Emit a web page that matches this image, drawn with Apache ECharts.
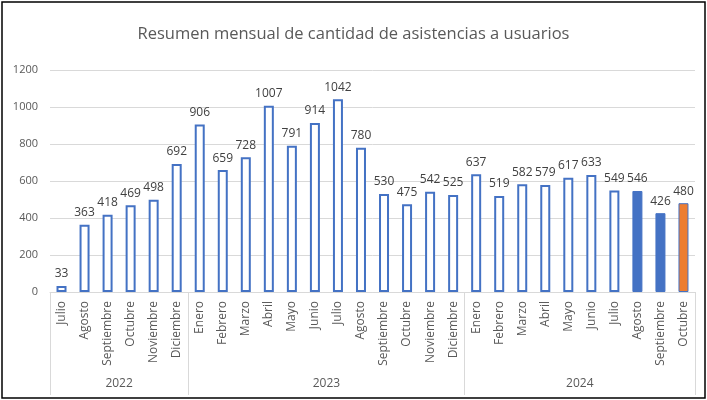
<!DOCTYPE html>
<html>
<head>
<meta charset="utf-8">
<script src="https://cdn.jsdelivr.net/npm/echarts@6/dist/echarts.min.js"></script>
<style>
html,body{margin:0;padding:0;background:#fff;}
#chart{width:707px;height:400px;}
</style>
</head>
<body>
<div id="chart"></div>
<script>
var months = ['Julio','Agosto','Septiembre','Octubre','Noviembre','Diciembre',
    'Enero','Febrero','Marzo','Abril','Mayo','Junio','Julio','Agosto','Septiembre','Octubre','Noviembre','Diciembre',
    'Enero','Febrero','Marzo','Abril','Mayo','Junio','Julio','Agosto','Septiembre','Octubre'];
var values = [33,363,418,469,498,692,
    906,659,728,1007,791,914,1042,780,530,475,542,525,
    637,519,582,579,617,633,549,546,426,480];
var years = ['2022','2023','2024'];
var yearBreaks = [0,6,18,28];
var yTicks = [0,200,400,600,800,1000,1200];

var blue = '#4472C4';
var orange = '#ED7D31';

// mid point of each year group, for the year labels
var yearMids = [];
for (var i = 0; i < years.length; i++) {
    yearMids.push((yearBreaks[i] + yearBreaks[i+1]) / 2);
}

var barData = values.map(function(v, i){
    var style = {color: '#fff', borderColor: blue, borderWidth: 2};
    if (i == values.length - 3 || i == values.length - 2) {
        style = {color: blue, borderColor: blue, borderWidth: 1};
    } else if (i == values.length - 1) {
        style = {color: orange, borderColor: blue, borderWidth: 1};
    }
    return {value: v, itemStyle: style};
});

var chart = echarts.init(document.getElementById('chart'));
chart.setOption({
    animation: false,
    backgroundColor: '#fff',
    title: {
        text: 'Resumen mensual de cantidad de asistencias a usuarios',
        left: 'center',
        top: 21,
        textStyle: {fontFamily: 'Open Sans', fontSize: 16.5, fontWeight: 'normal', color: '#595959'}
    },
    graphic: [{
        type: 'rect',
        shape: {x: 2, y: 2, width: 703, height: 396},
        style: {fill: 'none', stroke: '#000', lineWidth: 1.5},
        silent: true
    }],
    grid: {left: 50, right: 12, top: 70, bottom: 108},
    xAxis: [{
        type: 'category',
        data: months,
        axisLine: {lineStyle: {color: '#d9d9d9'}},
        axisTick: {show: false},
        axisLabel: {rotate: 90, interval: 0, margin: 9, fontSize: 12, color: '#595959', fontFamily: 'Open Sans'}
    }, {
        type: 'value',
        position: 'bottom',
        min: 0,
        max: months.length,
        axisLine: {show: false},
        splitLine: {show: false},
        axisTick: {show: true, customValues: yearBreaks, length: 103, lineStyle: {color: '#d9d9d9'}},
        axisLabel: {
            customValues: yearMids, margin: 86, fontSize: 12, color: '#595959', fontFamily: 'Open Sans',
            formatter: function(v){ return years[yearMids.indexOf(v)]; }
        }
    }],
    yAxis: {
        type: 'value',
        min: yTicks[0],
        max: yTicks[yTicks.length - 1],
        interval: 200,
        axisLine: {show: false},
        axisTick: {show: false},
        splitLine: {lineStyle: {color: '#d9d9d9'}},
        axisLabel: {fontSize: 11, color: '#595959', margin: 12, fontFamily: 'Open Sans',
            formatter: function(v){ return String(v); }}
    },
    series: [{
        type: 'bar',
        xAxisIndex: 0,
        data: barData,
        barWidth: 10,
        label: {show: true, position: 'top', distance: 6, fontSize: 12, color: '#404040', fontFamily: 'Open Sans'}
    }]
});
</script>
</body>
</html>
